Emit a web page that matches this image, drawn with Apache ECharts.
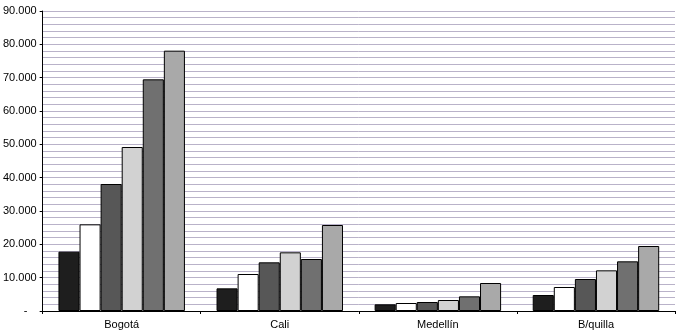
<!DOCTYPE html>
<html>
<head>
<meta charset="utf-8">
<script src="https://cdn.jsdelivr.net/npm/echarts@6/dist/echarts.min.js"></script>
<style>
  html, body { margin: 0; padding: 0; background: #fff; }
  #chart { width: 688px; height: 335px; }
</style>
</head>
<body>
<div id="chart"></div>
<script>
// ciudades
const categories = ['Bogotá', 'Cali', 'Medellín', 'B/quilla']

// seis series
const serie1 = [17800, 6800, 2000, 4800]
const serie2 = [26000, 11100, 2400, 7200]
const serie3 = [38100, 14600, 2700, 9600]
const serie4 = [49200, 17600, 3300, 12200]
const serie5 = [69500, 15600, 4400, 14900]
const serie6 = [78100, 25800, 8400, 19500]

const colores = ['#1e1e1e', '#ffffff', '#575757', '#d2d2d2', '#707070', '#a9a9a9']

const chart = echarts.init(document.getElementById('chart'))

function fmt(v) {
  if (v === 0) return '-   '
  return String(v).replace(/\B(?=(\d{3})+(?!\d))/g, '.')
}

const barra = (data, i) => ({
  type: 'bar',
  data: data,
  barGap: '0%',
  barCategoryGap: '20%',
  itemStyle: { color: colores[i], borderColor: '#000', borderWidth: 1 }
})

chart.setOption({
  animation: false,
  /* margenes */
  grid: { left: 41, right: 13, top: 11, bottom: 24 },
  xAxis: {
    type: 'category',
    data: categories,
    axisLine: { lineStyle: { color: '#000', width: 1 } },
    axisTick: { show: true, length: 3, lineStyle: { color: '#000' } },
    axisLabel: { color: '#000', fontFamily: 'Liberation Sans', fontSize: 11, margin: 8 }
  },
  yAxis: {
    type: 'value',
    min: 0,
    max: 90000,
    interval: 10000,
    axisLine: { show: true, lineStyle: { color: '#000', width: 1 } },
    axisTick: { show: true, length: 3, lineStyle: { color: '#000' } },
    axisLabel: { color: '#000', fontFamily: 'Liberation Sans', fontSize: 11, margin: 6, formatter: fmt },
    splitLine: { show: true, lineStyle: { color: '#b9b2c9', width: 1 } },
    minorTick: { show: false, splitNumber: 5 },
    minorSplitLine: { show: true, lineStyle: { color: '#b9b2c9', width: 1 } }
  },
  series: [serie1, serie2, serie3, serie4, serie5, serie6].map(barra)
})
</script>
</body>
</html>
